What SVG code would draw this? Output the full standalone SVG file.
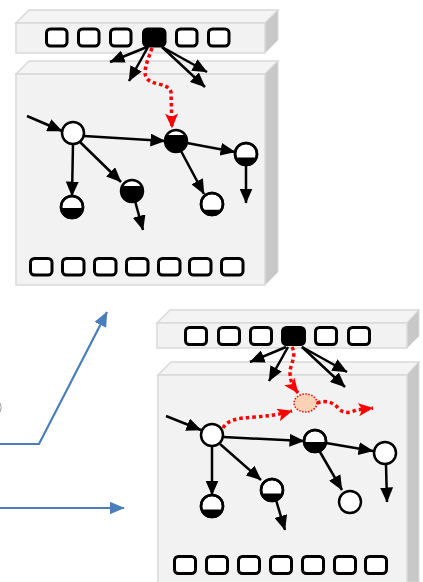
<svg xmlns="http://www.w3.org/2000/svg" width="423" height="582" viewBox="0 0 423 582">
<style>
.front{fill:#f2f2f2;stroke:#d9d9d9;stroke-width:1.5}
.top{fill:#f4f4f4;stroke:#d9d9d9;stroke-width:1.5}
.side{fill:#c8c8c8;stroke:#d9d9d9;stroke-width:1}
.sq{fill:#fff;stroke:#000;stroke-width:3}
.sqb{fill:#000;stroke:#000;stroke-width:3}
.nd{fill:#fff;stroke:#000;stroke-width:2.5}
.ol{fill:none;stroke:#000;stroke-width:2.5}
.seg{fill:#000}
.ar{fill:none;stroke:#000;stroke-width:2.5;marker-end:url(#ah)}
.rd{fill:none;stroke:#ff0000;stroke-width:3.5;stroke-dasharray:3.5 3;marker-end:url(#rh)}
.bl{fill:none;stroke:#4a7ebb;stroke-width:2.2;marker-end:url(#bh)}
</style>
<defs>
<marker id="ah" markerUnits="userSpaceOnUse" markerWidth="15" markerHeight="13" refX="14.5" refY="6.5" orient="auto"><path d="M0,0 L15,6.5 L0,13 z" fill="#000"/></marker>
<marker id="rh" markerUnits="userSpaceOnUse" markerWidth="15" markerHeight="13" refX="14.5" refY="6.5" orient="auto"><path d="M0,0 L15,6.5 L0,13 L3.5,6.5 z" fill="#ff0000"/></marker>
<marker id="bh" markerUnits="userSpaceOnUse" markerWidth="15" markerHeight="13" refX="14.5" refY="6.5" orient="auto"><path d="M0,0 L15,6.5 L0,13 z" fill="#4a7ebb"/></marker>
</defs>

<g id="box1-bar">
<polygon class="top" points="16,23 29,10 278,10 265,23"/>
<polygon class="side" points="265,23 278,10 278,40 265,53"/>
<rect class="front" x="16" y="23" width="249" height="30"/>
<rect class="sq" x="46.5" y="29" width="20.5" height="17" rx="4"/>
<rect class="sq" x="78.5" y="29" width="20.5" height="17" rx="4"/>
<rect class="sq" x="110.5" y="29" width="20.5" height="17" rx="4"/>
<rect class="sqb" x="143.5" y="29" width="21.5" height="17" rx="4"/>
<rect class="sq" x="176.5" y="29" width="20.5" height="17" rx="4"/>
<rect class="sq" x="208.5" y="29" width="20.5" height="17" rx="4"/>
</g>

<g id="box1-main">
<polygon class="top" points="16,74 29,61 278,61 265,74"/>
<polygon class="side" points="265,74 278,61 278,272 265,285"/>
<rect class="front" x="16" y="74" width="249" height="211"/>
<rect class="sq" x="30.5" y="258.5" width="21.5" height="16.5" rx="4"/>
<rect class="sq" x="62.5" y="258.5" width="21.5" height="16.5" rx="4"/>
<rect class="sq" x="94.5" y="258.5" width="21.5" height="16.5" rx="4"/>
<rect class="sq" x="126.5" y="258.5" width="21.5" height="16.5" rx="4"/>
<rect class="sq" x="158.5" y="258.5" width="21.5" height="16.5" rx="4"/>
<rect class="sq" x="189.5" y="258.5" width="21.5" height="16.5" rx="4"/>
<rect class="sq" x="221.5" y="258.5" width="21.5" height="16.5" rx="4"/>
</g>

<g id="box2-bar">
<polygon class="top" points="157,323 170,310 419,310 407,323"/>
<polygon class="side" points="407,323 419,310 419,336 407,348"/>
<rect class="front" x="157" y="323" width="250" height="25"/>
<rect class="sq" x="185.5" y="327.5" width="21" height="17" rx="4"/>
<rect class="sq" x="218.5" y="327.5" width="21" height="17" rx="4"/>
<rect class="sq" x="250.5" y="327.5" width="21" height="17" rx="4"/>
<rect class="sqb" x="282.5" y="327.5" width="22" height="17" rx="4"/>
<rect class="sq" x="315.5" y="327.5" width="21" height="17" rx="4"/>
<rect class="sq" x="348.5" y="327.5" width="21" height="17" rx="4"/>
</g>

<g id="box2-main">
<polygon class="top" points="158,375 171,362 419,362 407,375"/>
<polygon class="side" points="407,375 419,362 419,582 407,582"/>
<rect class="front" x="158" y="375" width="249" height="212"/>
<rect class="sq" x="174.5" y="556.5" width="21" height="17" rx="4"/>
<rect class="sq" x="206.5" y="556.5" width="21" height="17" rx="4"/>
<rect class="sq" x="238.5" y="556.5" width="21" height="17" rx="4"/>
<rect class="sq" x="270.5" y="556.5" width="21" height="17" rx="4"/>
<rect class="sq" x="302.5" y="556.5" width="21" height="17" rx="4"/>
<rect class="sq" x="334.5" y="556.5" width="21" height="17" rx="4"/>
<rect class="sq" x="365.5" y="556.5" width="21" height="17" rx="4"/>
</g>

<g id="connectors">
<!-- box 1 -->
<path class="ar" d="M147,47 L110,62"/>
<path class="ar" d="M148,47 L129,81"/>
<path class="ar" d="M162,47 L207,72"/>
<path class="ar" d="M162,47 L205,87"/>
<path class="rd" d="M152,48 C148,60 143,70 146,77 C150,86 168,82 171,92 L172,128"/>
<path class="ar" d="M27,116 L62,131"/>
<path class="ar" d="M84,136 L165,141"/>
<path class="ar" d="M187,143 L235,152"/>
<path class="ar" d="M246,165 L246,203"/>
<path class="ar" d="M73,144 L72,196"/>
<path class="ar" d="M80,142 L121,182"/>
<path class="ar" d="M135,201 L143,230"/>
<path class="ar" d="M181,151 L204,194"/>
<!-- box 2 -->
<path class="ar" d="M286,347 L250,362"/>
<path class="ar" d="M288,347 L269,381"/>
<path class="ar" d="M302,347 L347,372"/>
<path class="ar" d="M302,347 L345,387"/>
<path class="rd" d="M292,347 C297,356 290,365 290,372 C290,380 292,385 298,393"/>
<path class="rd" d="M223,428 C228,419 240,418 255,417 C268,416 278,415 292,411"/>
<path class="rd" d="M317,403 C326,400 333,402 338,408 C343,414 350,413 356,410 L373,408"/>
<path class="ar" d="M166,416 L201,430"/>
<path class="ar" d="M223,437 L304,441"/>
<path class="ar" d="M326,443 L373,451"/>
<path class="ar" d="M386,465 L387,502"/>
<path class="ar" d="M212,447 L212,495"/>
<path class="ar" d="M220,444 L261,480"/>
<path class="ar" d="M276,500 L285,530"/>
<path class="ar" d="M320,452 L342,490"/>
<!-- blue -->
<path class="bl" d="M0,444 L39,444 L107,312"/>
<path class="bl" d="M0,508 L124,508"/>
<path d="M0,403 Q2.5,407.5 0,412" fill="none" stroke="#999" stroke-width="1"/>
</g>

<g id="n1a"><circle class="nd" cx="73" cy="133" r="11"/></g>
<g id="n1b"><circle cx="176" cy="141" r="11" fill="#000"/><path d="M167,135 A11,11 0 0 1 185,135 Z" fill="#fff"/><circle class="ol" cx="176" cy="141" r="11"/></g>
<g id="n1c"><circle class="nd" cx="246" cy="154" r="11"/><path class="seg" d="M235.6,157.5 A11,11 0 0 0 256.4,157.5 Z"/><circle class="ol" cx="246" cy="154" r="11"/></g>
<g id="n1d"><circle class="nd" cx="72" cy="207" r="11"/><path class="seg" d="M61,208 A11,11 0 0 0 83,208 Z"/><circle class="ol" cx="72" cy="207" r="11"/></g>
<g id="n1e"><circle cx="132" cy="191" r="11" fill="#000"/><path d="M122.2,186 A11,11 0 0 1 141.8,186 Z" fill="#fff"/><circle class="ol" cx="132" cy="191" r="11"/></g>
<g id="n1f"><circle class="nd" cx="212" cy="204" r="11"/><path class="seg" d="M202.6,209.7 A11,11 0 0 0 221.4,209.7 Z"/><circle class="ol" cx="212" cy="204" r="11"/></g>

<g id="ell"><ellipse cx="305.5" cy="403" rx="11.5" ry="9" fill="#fbd3b4" stroke="#ff0000" stroke-width="1.5" stroke-dasharray="1.5 1.5"/></g>
<g id="n2a"><circle class="nd" cx="212" cy="435" r="11"/></g>
<g id="n2b"><circle class="nd" cx="315" cy="441" r="11"/><path class="seg" d="M304,442 A11,11 0 0 0 326,442 Z"/><circle class="ol" cx="315" cy="441" r="11"/></g>
<g id="n2c"><circle class="nd" cx="385" cy="453" r="11"/></g>
<g id="n2d"><circle class="nd" cx="212" cy="506" r="11"/><path class="seg" d="M201.6,509.5 A11,11 0 0 0 222.4,509.5 Z"/><circle class="ol" cx="212" cy="506" r="11"/></g>
<g id="n2e"><circle class="nd" cx="272" cy="490" r="11"/><path class="seg" d="M261.6,493.5 A11,11 0 0 0 282.4,493.5 Z"/><circle class="ol" cx="272" cy="490" r="11"/></g>
<g id="n2f"><circle class="nd" cx="350" cy="502" r="11"/></g>
</svg>
